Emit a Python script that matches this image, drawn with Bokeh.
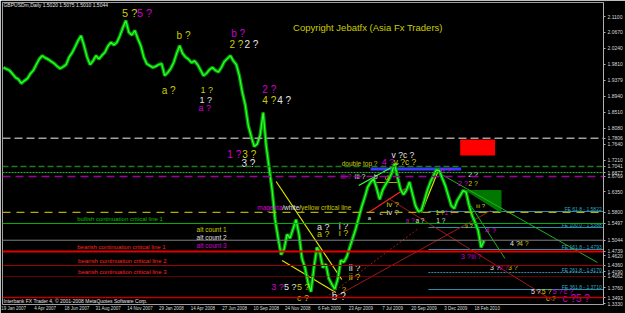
from bokeh.plotting import figure
from bokeh.models import (Range1d, LinearAxis, FixedTicker, Span,
                          ColumnDataSource, NumeralTickFormatter)
from bokeh.core.properties import value
from bokeh.embed import file_html
from bokeh.resources import INLINE

# ---------------- data ----------------
# weekly closes of GBPUSD, week 0 = 19 Jan 2007
closes = [
    1.972, 1.968, 1.964, 1.955, 1.945, 1.940, 1.929, 1.936, 1.942, 1.955,
    1.964, 1.980, 1.995, 2.004, 1.998, 1.994, 1.988, 1.983, 1.975, 1.969,
    1.974, 1.980, 2.000, 2.012, 2.028, 2.045, 2.058, 2.031, 2.000, 1.980,
    1.990, 2.004, 1.995, 2.005, 2.013, 2.030, 2.040, 2.033, 2.040, 2.058,
    2.080, 2.099, 2.067, 2.060, 2.072, 2.050, 2.031, 2.000, 1.982, 1.977,
    1.972, 1.975, 1.980, 1.982, 1.950, 1.958, 1.969, 1.985, 2.010, 2.031,
    2.010, 2.000, 1.994, 1.985, 1.990, 1.980, 1.965, 1.950, 1.956, 1.966,
    1.972, 1.964, 1.960, 1.972, 1.988, 1.996, 2.004, 1.990, 1.980, 1.950,
    1.905, 1.870, 1.815, 1.785, 1.758, 1.765, 1.790, 1.850, 1.760, 1.700,
    1.640, 1.560, 1.510, 1.465, 1.480, 1.520, 1.510, 1.535, 1.560, 1.520,
    1.455, 1.430, 1.390, 1.365, 1.430, 1.485, 1.470, 1.430, 1.440, 1.400,
    1.385, 1.372, 1.400, 1.450, 1.445, 1.460, 1.485, 1.510, 1.535, 1.565,
    1.595, 1.620, 1.648, 1.662, 1.670, 1.645, 1.615, 1.640, 1.655, 1.668,
    1.685, 1.712, 1.675, 1.642, 1.628, 1.640, 1.662, 1.630, 1.598, 1.582,
    1.585, 1.612, 1.640, 1.662, 1.678, 1.695, 1.693, 1.672, 1.652, 1.625,
    1.598, 1.590, 1.612, 1.625, 1.639, 1.634, 1.598, 1.571, 1.552, 1.531,
    1.485, 1.504,
]
weeks = list(range(len(closes)))

date_labels = ["19 Jan 2007", "4 Apr 2007", "18 Jun 2007", "31 Aug 2007",
               "14 Nov 2007", "29 Jan 2008", "14 Apr 2008", "27 Jun 2008",
               "10 Sep 2008", "24 Nov 2008", "6 Feb 2009", "23 Apr 2009",
               "7 Jul 2009", "20 Sep 2009", "3 Dec 2009", "18 Feb 2010"]
weeks_per_label = 10.577

price_ticks = [2.1100, 2.0670, 2.0240, 1.9810, 1.9379, 1.8940, 1.8510,
               1.8080, 1.7640, 1.7210, 1.6350, 1.4620, 1.4190, 1.3760, 1.3330]

# horizontal levels: (price, colour, width, dash)
levels = [
    (1.7806, "#a0a0a0", 1.5, "8 4"),
    (1.7041, "#1f7a1f", 1.5, "6 3"),
    (1.6877, "#10c010", 1.2, "2 1"),
    (1.6769, "#a000a0", 1.5, "8 5"),
    (1.5800, "#b0b000", 1.2, "8 6"),
    (1.5497, "#00b000", 1.0, "solid"),
    (1.5044, "#808080", 1.0, "solid"),
    (1.4739, "#e00000", 2.0, "solid"),
    (1.4360, "#a00000", 1.2, "solid"),
    (1.4062, "#c00000", 1.2, "1 1"),
    (1.3493, "#c00000", 1.5, "solid"),
]

fe_names = ["FE 61.8", "FE 100.0", "FE 161.8", "FE 261.8", "FE 361.8"]
fe_prices = [1.5822, 1.5388, 1.4793, 1.4170, 1.3710]

Y, M, W, G, R = "#cccc00", "#d000d0", "#e4e4e4", "#00c000", "#ff2020"

# wave / note labels: (text, week, price, colour, font px)
notes = [
    ("5 ?", 39.7, 2.1208, Y, 11), ("5 ?", 44.7, 2.1208, M, 11),
    ("b ?", 58.0, 2.0586, Y, 10), ("a ?", 53.0, 1.9097, Y, 10),
    ("1 ?", 66.0, 1.9097, Y, 9), ("1 ?", 65.7, 1.8853, W, 9),
    ("a ?", 65.3, 1.8610, M, 9),
    ("b ?", 76.3, 2.0640, M, 10), ("2 ?", 75.7, 2.0342, Y, 10),
    ("2 ?", 80.7, 2.0342, W, 10), ("2 ?", 86.7, 1.9124, M, 10),
    ("4 ?", 86.7, 1.8826, Y, 10), ("4 ?", 91.7, 1.8826, W, 10),
    ("1 ?", 75.0, 1.7364, M, 10), ("3 ?", 80.0, 1.7364, Y, 10),
    ("3 ?", 79.7, 1.7121, W, 10),
    ("double top ?", 113.3, 1.7121, Y, 6.5), ("4 ?", 126.7, 1.7148, M, 9),
    ("v ?c ?", 130.7, 1.7148, Y, 8.5), ("v ?c ?", 130.0, 1.7364, W, 8.5),
    ("iii ?", 113.0, 1.6769, M, 7), ("iii ?", 117.7, 1.6769, W, 7),
    ("magenta", 85.0, 1.5930, M, 6.5), ("/white/", 93.4, 1.5930, W, 6.5),
    ("yellow critical line", 99.7, 1.5930, Y, 6.5),
    ("alt count 1", 64.7, 1.5334, Y, 6.5), ("alt count 2", 64.7, 1.5118, W, 6.5),
    ("alt count 3", 64.7, 1.4901, M, 6.5),
    ("a ?", 105.0, 1.5415, W, 9), ("a ?", 105.0, 1.5199, Y, 9),
    ("i ?", 112.3, 1.5442, W, 9), ("i ?", 112.3, 1.5226, Y, 9),
    ("ii ?", 115.7, 1.4279, W, 9), ("ii ?", 115.7, 1.4035, Y, 9),
    ("3 ?", 89.7, 1.3791, M, 9), ("5 ?", 94.0, 1.3791, W, 9),
    ("5 ?", 98.3, 1.3791, Y, 9), ("c ?", 98.3, 1.3493, Y, 9),
    ("?", 113.3, 1.3710, Y, 8), ("b ?", 110.0, 1.3520, W, 10),
    ("b", 124.0, 1.6769, W, 7), ("d", 127.7, 1.6742, Y, 7),
    ("a", 122.0, 1.5632, W, 6), ("c", 126.0, 1.5794, W, 6),
    ("iv ?", 128.3, 1.6011, Y, 8), ("iv ?", 128.3, 1.5794, W, 8),
    ("a ?", 134.7, 1.5578, M, 6.5), ("a ?", 138.0, 1.5578, W, 6.5),
    ("1 ?", 144.7, 1.5794, Y, 6.5), ("1 ?", 147.7, 1.5794, M, 6.5),
    ("1 ?", 145.0, 1.5578, W, 6.5), ("b ?", 146.3, 1.6931, M, 7.5),
    ("2 ?", 155.7, 1.6823, W, 7), ("2 ?", 152.3, 1.6579, M, 7),
    ("2 ?", 155.7, 1.6579, Y, 7),
    ("iii ?", 158.3, 1.5957, Y, 6), ("ii ?", 154.7, 1.5442, Y, 6),
    ("4 ?", 161.3, 1.5307, M, 8),
    ("4 ?", 169.7, 1.4955, W, 7), ("4 ?", 172.7, 1.4955, Y, 7),
    ("3 ?", 153.3, 1.4603, M, 7), ("iii ?", 156.7, 1.4603, M, 6.5),
    ("3 ?", 163.0, 1.4306, W, 7), ("v ?", 166.0, 1.4306, M, 7),
    ("3 ?", 169.0, 1.4306, Y, 7),
    ("5 ?", 176.7, 1.3656, W, 7), ("5 ?", 180.3, 1.3656, Y, 7),
    ("5 ?", 184.0, 1.3656, M, 7), ("c ?", 187.7, 1.3656, M, 7),
    ("c ?", 181.7, 1.3466, Y, 7.5), ("c ?5 ?", 187.3, 1.3466, M, 10),
    ("bullish continuation critical line 1", 24.7, 1.5605, G, 6),
    ("bearish continuation critical line 1", 24.7, 1.4874, R, 6),
    ("bearish continuation critical line 2", 25.0, 1.4495, R, 6),
    ("bearish continuation critical line 3", 25.0, 1.4197, R, 6),
    ("Copyright Jebatfx (Asia Fx Traders)", 97.0, 2.0802, "#cccc00", 9.5),
    ("GBPUSDm,Daily  1.5020 1.5075 1.5010 1.5044", 0.0, 2.1398, W, 5),
    ("Interbank FX Trader 4, \u00a9 2001-2008 MetaQuotes Software Corp.", 0.0, 1.3412, W, 5),
]

# trend lines: (w0, p0, w1, p1, colour, width, dash)
trend_lines = [
    (91.33, 1.6634, 113.33, 1.3980, "#e0e000", 1.2, "solid"),
    (93.33, 1.4495, 111.33, 1.3629, "#e0e000", 1.2, "solid"),
    (140.0, 1.5794, 145.67, 1.6931, "#e0e000", 1.2, "solid"),
    (124.0, 1.6606, 132.33, 1.6606, "#b0b000", 1.0, "solid"),
    (119.0, 1.6525, 132.33, 1.7121, "#40ff40", 1.2, "solid"),
    (122.33, 1.5794, 134.67, 1.6444, "#ff2020", 1.2, "solid"),
    (110.67, 1.3493, 163.33, 1.5848, "#a01818", 1.0, "solid"),
    (108.0, 1.3493, 139.0, 1.5361, "#a01818", 1.0, "2 2"),
    (129.0, 1.6173, 184.0, 1.3412, "#a01818", 1.0, "solid"),
    (147.33, 1.6796, 199.0, 1.4441, "#20b020", 1.0, "solid"),
    (155.0, 1.6173, 168.0, 1.4549, "#20b020", 1.0, "solid"),
]

# ---------------- figure ----------------
x0, x1 = -0.33, 201.0
p0, p1 = 1.3304, 2.1479
p = figure(width=625, height=313, x_range=Range1d(x0, x1), y_range=Range1d(p0, p1),
           output_backend="svg", toolbar_location=None,
           x_axis_location=None, y_axis_location=None,
           min_border_left=2, min_border_right=19, min_border_top=2, min_border_bottom=9,
           background_fill_color="#000000", border_fill_color="#000000",
           outline_line_color="#a0a0a0")
p.grid.visible = False

axis_ticks = sorted(price_ticks + [lv[0] for lv in levels])
yaxis = LinearAxis(ticker=FixedTicker(ticks=axis_ticks),
                   formatter=NumeralTickFormatter(format="0.0000"),
                   axis_line_color="#b0b0b0", major_tick_line_color="#b0b0b0",
                   major_tick_out=2, major_tick_in=0, minor_tick_line_color=None,
                   minor_tick_out=0, minor_tick_in=0,
                   major_label_text_font_size="5px", major_label_text_color="#d8d8d8",
                   major_label_text_font="Liberation Sans", major_label_standoff=2)
p.add_layout(yaxis, "right")

shift = 3.4
date_ticks = [round(i * weeks_per_label + shift, 2) for i in range(len(date_labels))]
xaxis = LinearAxis(ticker=FixedTicker(ticks=date_ticks),
                   major_label_overrides={t: lab for t, lab in zip(date_ticks, date_labels)},
                   axis_line_color=None, major_tick_line_color=None,
                   minor_tick_line_color=None, major_tick_out=0, major_tick_in=0,
                   minor_tick_out=0, minor_tick_in=0,
                   major_label_text_font_size="4.5px", major_label_text_color="#d8d8d8",
                   major_label_text_font="Liberation Sans", major_label_standoff=1)
p.add_layout(xaxis, "below")

# horizontal levels
for price, col, lw, dash in levels:
    p.add_layout(Span(location=price, dimension="width", line_color=col,
                      line_width=lw, line_dash=dash))

# FE projection lines
fe_start = 142.33
for name, fp in zip(fe_names, fe_prices):
    p.segment(x0=[fe_start], y0=[fp], x1=[x1], y1=[fp], line_color="#2a8fa8",
              line_width=1.2, line_dash="2 1" if name == "FE 261.8" else "solid")

# blue line at double top, red box, green triangle
p.segment(x0=[123.0], y0=[1.6972], x1=[153.33], y1=[1.6972], line_color="#3a3aff", line_width=3)
p.quad(left=[153.0], right=[164.67], bottom=[1.7337], top=[1.7770],
       fill_color="#ff0000", line_color=None)
p.patch(x=[155.0, 166.67, 166.67], y=[1.6390, 1.6390, 1.5794],
        fill_color="#007800", line_color="#007800")

# trend lines
for a, b, c, d, col, lw, dash in trend_lines:
    p.segment(x0=[a], y0=[b], x1=[c], y1=[d], line_color=col, line_width=lw, line_dash=dash)

# price
src = ColumnDataSource(dict(x=weeks, y=closes))
p.line("x", "y", source=src, line_color="#00a000", line_width=3.5)
p.line("x", "y", source=src, line_color="#30ff30", line_width=1.2)

FONT = value("Liberation Sans")

# texts
tsrc = ColumnDataSource(dict(
    x=[n[1] for n in notes], y=[n[2] for n in notes], text=[n[0] for n in notes],
    color=[n[3] for n in notes], size=["%gpx" % n[4] for n in notes]))
p.text("x", "y", text="text", source=tsrc, text_color="color", text_font_size="size",
       text_align="left", text_baseline="middle", text_font=FONT)

fsrc = ColumnDataSource(dict(x=[200.4] * len(fe_names), y=[v + 0.006 for v in fe_prices],
                             text=["%s - %.4f" % (n, v) for n, v in zip(fe_names, fe_prices)]))
p.text("x", "y", text="text", source=fsrc, text_color="#35a8c8", text_font_size=value("5px"),
       text_align="right", text_baseline="middle", text_font=FONT)

open("out.html", "w").write(file_html(p, INLINE))
